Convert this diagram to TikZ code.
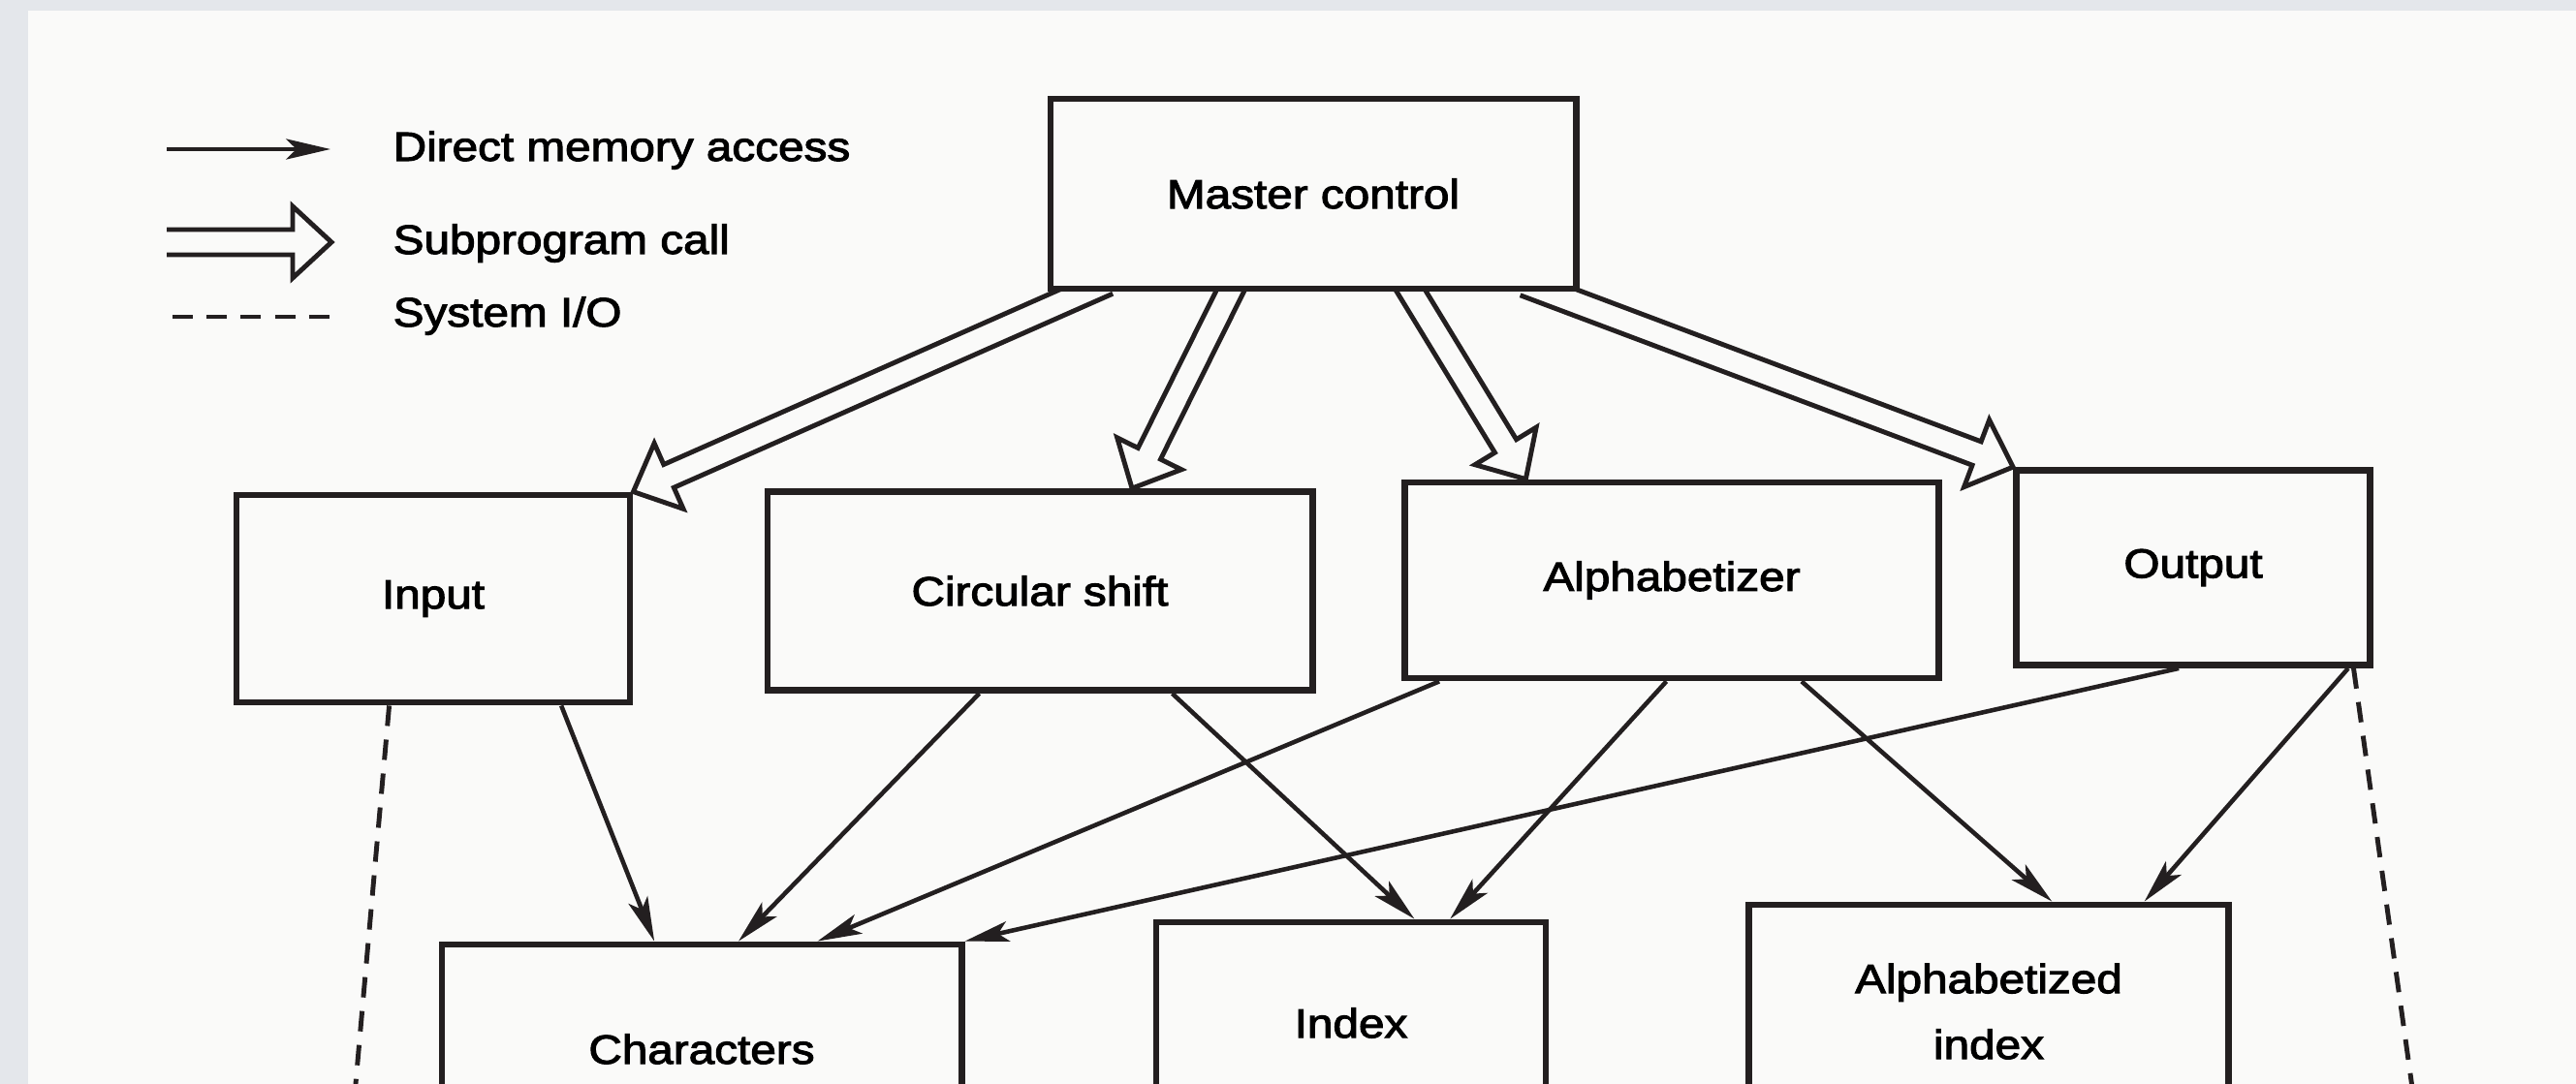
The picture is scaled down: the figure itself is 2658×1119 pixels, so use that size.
\documentclass[tikz,border=0pt]{standalone}
\usepackage{fontspec}
\setmainfont{Liberation Sans}[FakeStretch=1.13, FakeBold=2.5]
\usetikzlibrary{arrows.meta,calc,backgrounds}

\definecolor{ink}{RGB}{35,31,32}
\definecolor{paper}{RGB}{250,250,249}
\definecolor{edge}{RGB}{228,231,235}

\tikzset{
  module/.style={draw=ink, fill=paper, line width=1.9pt, inner sep=0pt, align=center},
  memaccess/.style={draw=ink, line width=1.3pt,
    -{Stealth[length=13pt, width=6pt, inset=3pt]}},
  sysio/.style={draw=ink, line width=1.4pt, dash pattern=on 6pt off 4pt},
  callarrow/.style={draw=ink, fill=paper, line width=1.4pt, miter limit=10},
  legendtext/.style={anchor=base west, inner sep=0pt}
}

% hollow subprogram call arrow from #2 to #3, shaft started #1 behind #2
\newcommand\subcall[3][0.25cm]{%
  \coordinate (c0) at #2; \coordinate (ce) at #3;
  \coordinate (cs) at ($(c0)!-#1!(ce)$);
  \coordinate (cb) at ($(ce)!0.4cm!(cs)$);
  \path[callarrow] ($(cs)!0.13cm!90:(ce)$) -- ($(cb)!0.13cm!-90:(cs)$)
    -- ($(cb)!0.37cm!-90:(cs)$) -- (ce) -- ($(cb)!0.37cm!90:(cs)$)
    -- ($(cb)!0.13cm!90:(cs)$) -- ($(cs)!0.13cm!-90:(ce)$);}

\begin{document}
\begin{tikzpicture}[x=0.01cm, y=-0.01cm, font=\fontsize{12}{19.3}\selectfont]
\useasboundingbox (0,0) rectangle (2658,1119);
% Page and scanner edge
\begin{scope}[on background layer]
\fill[edge] (0,0) rectangle (2658,1119);
\fill[paper] (29,11) rectangle (2658,1119);
\end{scope}
\clip (0,0) rectangle (2658,1119);
% Legend
\coordinate (dma1) at (172,154);
\coordinate (dma2) at (341,154);
\coordinate (call1) at (172,250);
\coordinate (call2) at (342,250);
\coordinate (io1) at (178,327);
\coordinate (io2) at (344,327);
\draw[memaccess] (dma1) -- (dma2);
\draw[sysio] (io1) -- (io2);
\node[legendtext] (dmalabel) at (405,166) {Direct memory access};
\node[legendtext] (calllabel) at (405,262) {Subprogram call};
\node[legendtext] (iolabel) at (405,337) {System I/O};
% Modules
\node[module, minimum width=5.42cm, minimum height=1.96cm] (master) at (1355,200) {Master control};
\node[module, minimum width=4.06cm, minimum height=2.14cm] (input) at (447,618) {Input};
\node[module, minimum width=5.62cm, minimum height=2.05cm] (circ) at (1073,610) {Circular shift};
\node[module, minimum width=5.51cm, minimum height=2.02cm] (alph) at (1725,599) {Alphabetizer};
\node[module, minimum width=3.65cm, minimum height=2.01cm] (output) at (2263,586) {Output};
% Data
\node[module, minimum width=5.36cm, minimum height=2.16cm] (chars) at (724,1083) {Characters};
\node[module, minimum width=4.02cm, minimum height=2.08cm] (index) at (1394,1056) {Index};
\node[module, minimum width=4.95cm, minimum height=2.2cm] (alphidx) at (2052,1044) {Alphabetized\\index};
% Subprogram calls
\begin{scope}[on background layer]
\subcall[0cm]{(call1)}{(call2)}
\subcall{($(master.south west)!.072!(master.south east)$)}{(input.north east)}
\subcall{($(master.south west)!.343!(master.south east)$)}{($(circ.north west)!.667!(circ.north east)$)}
\subcall{($(master.south west)!.685!(master.south east)$)}{($(alph.north west)!.23!(alph.north east)$)}
\subcall{($(master.south west)!.94!(master.south east)$)}{(output.north west)}
\end{scope}
% Direct memory access
\draw[memaccess] ($(input.south west)!.82!(input.south east)$) -- ($(chars.north west)!.41!(chars.north east)$);
\draw[memaccess] ($(circ.south west)!.39!(circ.south east)$) -- ($(chars.north west)!.57!(chars.north east)$);
\draw[memaccess] ($(circ.south west)!.74!(circ.south east)$) -- ($(index.north west)!.66!(index.north east)$);
\draw[memaccess] ($(alph.south west)!.07!(alph.south east)$) -- ($(chars.north west)!.72!(chars.north east)$);
\draw[memaccess] ($(alph.south west)!.49!(alph.south east)$) -- ($(index.north west)!.75!(index.north east)$);
\draw[memaccess] ($(alph.south west)!.74!(alph.south east)$) -- ($(alphidx.north west)!.63!(alphidx.north east)$);
\draw[memaccess] ($(output.south west)!.46!(output.south east)$) -- (chars.north east);
\draw[memaccess] ($(output.south west)!.93!(output.south east)$) -- ($(alphidx.north west)!.82!(alphidx.north east)$);
% System I/O
\coordinate (inbot) at (366,1130);
\coordinate (outbot) at (2490,1130);
\draw[sysio] ($(input.south west)!.39!(input.south east)$) -- (inbot);
\draw[sysio] ($(output.south west)!.945!(output.south east)$) -- (outbot);
\end{tikzpicture}
\end{document}
